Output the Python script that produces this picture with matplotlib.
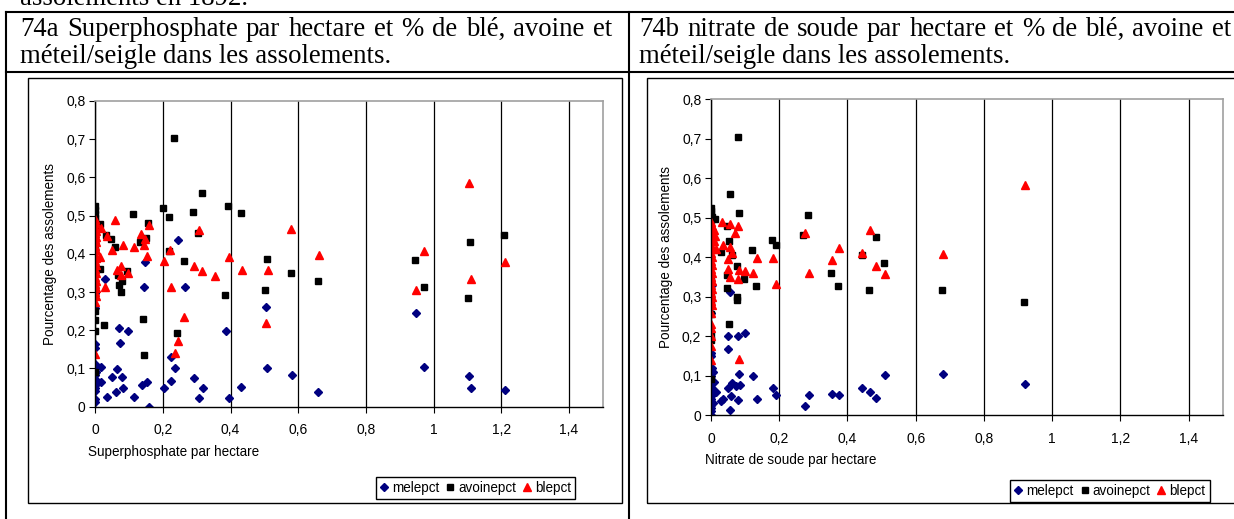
import matplotlib
matplotlib.use("Agg")
import matplotlib.pyplot as plt
from matplotlib.lines import Line2D
from matplotlib.patches import Rectangle
from matplotlib.ticker import MultipleLocator, FuncFormatter

W, H = 1234, 519

# --- 74a : superphosphate par hectare ---
a_mele_x = [0.245, 0.147, 0.028, 0.144, 0.264, 0.071, 0.096, 0.074, 0.386, 0.223, 0.235, 0.018, 0.063,
            0.050, 0.078, 0.016, 0.081, 0.137, 0.153, 0.223, 0.292, 0.203, 0.317, 0.432, 0.034, 0.060,
            0.115, 0.307, 0.396, 0.160, 0.505, 0.508, 0.581, 0.658, 0.949, 0.973, 1.105, 1.111, 1.211,
            0, 0, 0, 0, 0, 0, 0, 0, 0, 0, 0, 0, 0, 0, 0.002, 0.003]
a_mele_y = [0.436, 0.378, 0.334, 0.312, 0.312, 0.207, 0.198, 0.168, 0.198, 0.129, 0.102, 0.105, 0.099,
            0.079, 0.079, 0.065, 0.049, 0.058, 0.065, 0.068, 0.074, 0.049, 0.049, 0.051, 0.026, 0.038,
            0.026, 0.024, 0.024, 0.000, 0.262, 0.101, 0.082, 0.038, 0.246, 0.104, 0.080, 0.050, 0.044,
            0.298, 0.257, 0.163, 0.153, 0.113, 0.102, 0.083, 0.072, 0.064, 0.057, 0.048, 0.041, 0.020, 0.013,
            0.090, 0.060]

a_avoine_x = [0.232, 0.314, 0.392, 0.200, 0.288, 0.430, 0.112, 0.219, 0.155, 0.013, 0.304, 0.031, 0.046,
              0.150, 0.133, 0.059, 0.219, 0.261, 0.015, 0.093, 0.066, 0.078, 0.071, 0.075, 0.383, 0.140,
              0.025, 0.242, 0.144, 0.508, 0.578, 0.658, 0.502, 0.946, 0.971, 1.108, 1.208, 1.102,
              0, 0, 0, 0, 0, 0, 0, 0, 0, 0, 0, 0, 0, 0, 0]
a_avoine_y = [0.704, 0.558, 0.526, 0.521, 0.510, 0.508, 0.505, 0.497, 0.480, 0.477, 0.455, 0.450, 0.439,
              0.441, 0.432, 0.418, 0.407, 0.381, 0.361, 0.356, 0.345, 0.329, 0.319, 0.301, 0.292, 0.229,
              0.213, 0.194, 0.135, 0.387, 0.350, 0.328, 0.305, 0.383, 0.314, 0.430, 0.449, 0.284,
              0.525, 0.515, 0.505, 0.495, 0.485, 0.470, 0.450, 0.410, 0.360, 0.320, 0.300, 0.250, 0.228,
              0.198, 0.092]

a_ble_x = [0.158, 0.058, 0.018, 0.034, 0.136, 0.148, 0.143, 0.081, 0.050, 0.115, 0.308, 0.222, 0.014,
           0.153, 0.203, 0.396, 0.291, 0.316, 0.433, 0.075, 0.063, 0.098, 0.076, 0.354, 0.028, 0.223,
           0.263, 0.244, 0.235, 0.580, 0.660, 0.512, 0.505, 0.973, 0.949, 1.105, 1.210, 1.111,
           0, 0.003, 0, 0.003, 0, 0.003, 0, 0.003, 0, 0.003, 0, 0.003, 0, 0.003, 0, 0.003, 0, 0.003,
           0, 0.003, 0, 0.003, 0, 0]
a_ble_y = [0.476, 0.488, 0.468, 0.446, 0.453, 0.438, 0.424, 0.424, 0.411, 0.419, 0.463, 0.409, 0.392,
           0.395, 0.380, 0.391, 0.367, 0.355, 0.358, 0.367, 0.358, 0.350, 0.345, 0.341, 0.313, 0.313,
           0.234, 0.173, 0.141, 0.466, 0.396, 0.357, 0.220, 0.408, 0.305, 0.585, 0.378, 0.333,
           0.490, 0.480, 0.470, 0.460, 0.455, 0.445, 0.440, 0.430, 0.420, 0.410, 0.400, 0.390, 0.380,
           0.370, 0.360, 0.350, 0.340, 0.330, 0.320, 0.310, 0.300, 0.290, 0.275, 0.137]

# --- 74b : nitrate de soude par hectare ---
b_mele_x = [0.056, 0.050, 0.078, 0.100, 0.050, 0.082, 0.123, 0.062, 0.050, 0.073, 0.085, 0.015, 0.060,
            0.036, 0.030, 0.078, 0.134, 0.056, 0.182, 0.192, 0.287, 0.276, 0.355, 0.375, 0.444, 0.466,
            0.485, 0.510, 0.680, 0.921,
            0, 0, 0.003, 0.005, 0, 0, 0.008, 0, 0.004, 0, 0, 0.010, 0, 0, 0.006, 0, 0, 0, 0, 0.002, 0]
b_mele_y = [0.313, 0.201, 0.201, 0.208, 0.168, 0.105, 0.099, 0.082, 0.068, 0.073, 0.077, 0.058, 0.050,
            0.041, 0.036, 0.039, 0.041, 0.013, 0.068, 0.051, 0.051, 0.024, 0.054, 0.051, 0.070, 0.059,
            0.043, 0.102, 0.104, 0.080,
            0.157, 0.150, 0.120, 0.110, 0.100, 0.090, 0.085, 0.080, 0.070, 0.065, 0.055, 0.060, 0.048,
            0.040, 0.030, 0.025, 0.018, 0.010, 0.000, 0.330, 0.260]

b_avoine_x = [0.078, 0.056, 0.081, 0.284, 0.012, 0.046, 0.054, 0.062, 0.028, 0.180, 0.190, 0.121, 0.270,
              0.075, 0.046, 0.097, 0.131, 0.352, 0.371, 0.046, 0.077, 0.075, 0.054, 0.444, 0.483, 0.463,
              0.507, 0.677, 0.917,
              0, 0, 0, 0.004, 0, 0.006, 0, 0, 0, 0, 0, 0, 0]
b_avoine_y = [0.705, 0.559, 0.513, 0.508, 0.497, 0.478, 0.441, 0.406, 0.414, 0.443, 0.432, 0.419, 0.457,
              0.379, 0.354, 0.344, 0.328, 0.360, 0.328, 0.322, 0.300, 0.293, 0.230, 0.407, 0.452, 0.317,
              0.386, 0.316, 0.286,
              0.526, 0.518, 0.510, 0.503, 0.495, 0.440, 0.340, 0.300, 0.285, 0.256, 0.203, 0.190, 0.092]

b_ble_x = [0.031, 0.056, 0.078, 0.069, 0.062, 0.034, 0.056, 0.050, 0.134, 0.182, 0.275, 0.374, 0.354,
           0.444, 0.466, 0.051, 0.083, 0.100, 0.123, 0.288, 0.055, 0.079, 0.192, 0.082, 0.510, 0.485,
           0.680, 0.921, 0.012, 0.010, 0.008, 0.015,
           0, 0.003, 0, 0.003, 0, 0.003, 0, 0.003, 0, 0.003, 0, 0.003, 0, 0.003, 0, 0.003, 0, 0.003,
           0, 0.003, 0, 0.003, 0, 0, 0, 0, 0, 0]
b_ble_y = [0.489, 0.484, 0.478, 0.462, 0.411, 0.430, 0.426, 0.395, 0.397, 0.397, 0.462, 0.424, 0.392,
           0.412, 0.468, 0.370, 0.367, 0.366, 0.360, 0.360, 0.351, 0.344, 0.333, 0.142, 0.358, 0.379,
           0.409, 0.583, 0.455, 0.440, 0.470, 0.420,
           0.490, 0.480, 0.470, 0.460, 0.450, 0.440, 0.430, 0.420, 0.410, 0.400, 0.390, 0.380, 0.370,
           0.360, 0.350, 0.340, 0.330, 0.320, 0.310, 0.300, 0.290, 0.280, 0.260, 0.230, 0.220, 0.200,
           0.175, 0.140]

header_a = ["74a Superphosphate par hectare et % de blé, avoine et",
            "méteil/seigle dans les assolements."]
header_b = ["74b nitrate de soude par hectare et % de blé, avoine et",
            "méteil/seigle dans les assolements."]
series_names = ["melepct", "avoinepct", "blepct"]

plt.rcParams['font.family'] = ['Liberation Sans', 'DejaVu Sans']

fig = plt.figure(figsize=(W / 100, H / 100), dpi=100)
renderer = fig.canvas.get_renderer()
serif = ['Liberation Serif', 'DejaVu Serif']
HEAD_FS = 19.3


def fx(px):
    return px / W


def fy(py):
    return 1 - py / H


def hline(x0, x1, y, lw=1.5):
    fig.add_artist(Line2D([fx(x0), fx(x1)], [fy(y), fy(y)], color='black', lw=lw,
                          transform=fig.transFigure))


def vline(x, y0, y1, lw=1.5):
    fig.add_artist(Line2D([fx(x), fx(x)], [fy(y0), fy(y1)], color='black', lw=lw,
                          transform=fig.transFigure))


def justified(x0, x1, y, line):
    # word-justified line, like the Word table cell
    words = line.split()
    texts = [fig.text(0, fy(y), w, family=serif, fontsize=HEAD_FS, va='baseline') for w in words]
    widths = [t.get_window_extent(renderer).width for t in texts]
    gap = (x1 - x0 - sum(widths)) / (len(words) - 1)
    x = x0
    for t, w in zip(texts, widths):
        t.set_x(fx(x))
        x += w + gap


# table grid around the two cells
hline(6, W, 12)
hline(6, W, 72)
vline(6, 12, H)
vline(629, 12, H)

fig.text(fx(20), fy(5), "assolements en 1892.", family=serif, fontsize=HEAD_FS, va='baseline')
justified(20, 612, 36, header_a[0])
fig.text(fx(20), fy(63), header_a[1], family=serif, fontsize=HEAD_FS, va='baseline')
justified(639, 1231, 36, header_b[0])
fig.text(fx(639), fy(63), header_b[1], family=serif, fontsize=HEAD_FS, va='baseline')

# chart area frames
fig.add_artist(Rectangle((fx(28), fy(503)), fx(622 - 28), (503 - 78) / H, fill=False,
                         ec='black', lw=1, transform=fig.transFigure))
fig.add_artist(Rectangle((fx(647), fy(503)), fx(W + 10 - 647), (503 - 78) / H, fill=False,
                         ec='black', lw=1, transform=fig.transFigure))


def comma(v, pos):
    return ('%g' % round(v, 2)).replace('.', ',')


def draw(rect, data, xlabel, xlab_pos, ylab_x, leg_pos):
    left, top, right, bottom = rect
    ax = fig.add_axes([fx(left), fy(bottom), fx(right - left), (bottom - top) / H])
    (mx, my), (ax_, ay), (bx, by) = data
    ax.plot(mx, my, 'D', color='#000080', ms=4.3, mec='#000080', ls='none', label=series_names[0])
    ax.plot(ax_, ay, 's', color='black', ms=5, ls='none', label=series_names[1])
    ax.plot(bx, by, '^', color='#ff0000', ms=6, ls='none', label=series_names[2])
    ax.set_xlim(0, 1.5)
    ax.set_ylim(0, 0.8)
    ax.xaxis.set_major_locator(MultipleLocator(0.2))
    ax.yaxis.set_major_locator(MultipleLocator(0.1))
    ax.xaxis.set_major_formatter(FuncFormatter(comma))
    ax.yaxis.set_major_formatter(FuncFormatter(comma))
    ax.tick_params(direction='out', length=4, width=0.8, labelsize=10, colors='black', pad=3)
    ax.tick_params(axis='x', pad=8)
    ax.grid(axis='x', color='black', lw=0.9)
    ax.set_axisbelow(True)
    for s in ('top', 'right'):
        ax.spines[s].set_color('#a0a0a0')
        ax.spines[s].set_linewidth(1.2)
    for s in ('left', 'bottom'):
        ax.spines[s].set_color('black')
        ax.spines[s].set_linewidth(1)
    fig.text(fx(xlab_pos[0]), fy(xlab_pos[1]), xlabel, fontsize=9.75, ha='center', va='center')
    fig.text(fx(ylab_x), fy((top + bottom) / 2), "Pourcentage des assolements", fontsize=9.75,
             rotation=90, ha='center', va='center')
    leg = ax.legend(loc='center', bbox_to_anchor=(fx(leg_pos[0]), fy(leg_pos[1])),
                    bbox_transform=fig.transFigure, ncol=3, fontsize=9.75, numpoints=1,
                    handlelength=0.6, handletextpad=0.3, columnspacing=0.5, borderpad=0.3,
                    fancybox=False, framealpha=1, edgecolor='black', markerscale=0.9)
    leg.get_frame().set_linewidth(1)
    return ax


draw((95.3, 101, 602.7, 406.7),
     [(a_mele_x, a_mele_y), (a_avoine_x, a_avoine_y), (a_ble_x, a_ble_y)],
     "Superphosphate par hectare", (174, 452), 50, (475.5, 488))
draw((711, 99.3, 1222.7, 415.3),
     [(b_mele_x, b_mele_y), (b_avoine_x, b_avoine_y), (b_ble_x, b_ble_y)],
     "Nitrate de soude par hectare", (791, 460), 666, (1110, 491))

fig.savefig("out.png", dpi=100)
